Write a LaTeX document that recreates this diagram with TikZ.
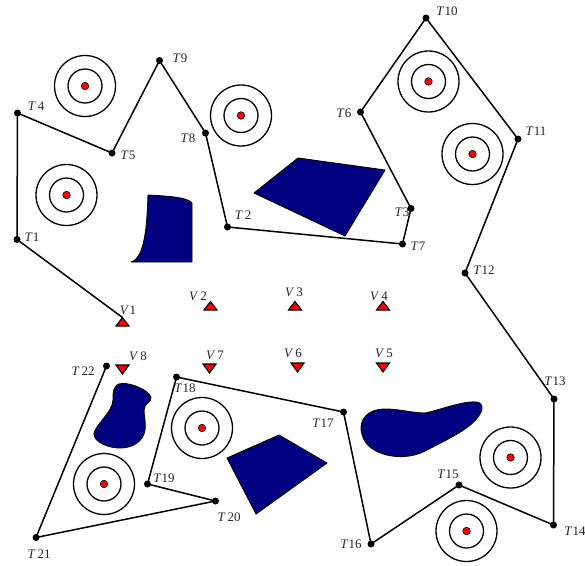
\documentclass[tikz,border=0pt]{standalone}
\usepackage{fontspec}
\setmainfont{Liberation Serif}
\definecolor{navyblob}{RGB}{0,0,128}
\newcommand{\lab}[2]{\textit{#1}\kern0.4pt #2}
\newcommand{\labw}[2]{\textit{#1}\kern2pt #2}
\tikzset{
  x=1pt,y=-1pt,
  tdot/.style={circle,fill=black,inner sep=0pt,minimum size=7pt},
  tlabel/.style={font=\fontsize{13}{13}\selectfont,text=black!85,inner sep=0pt},
  route/.style={draw=black,line width=1.5pt,line join=round},
  ring/.style={draw=black,line width=1.3pt,fill=none},
  reddot/.style={circle,draw=black,line width=0.6pt,fill=red,inner sep=0pt,minimum size=7.5pt},
  blob/.style={draw=black,line width=0.9pt,fill=navyblob,line join=round},
  tri/.style={draw=black,line width=1.1pt,fill=red,line join=miter},
}
\newcommand{\target}[3]{%
  \draw[ring] (#1,#2) circle[radius=30.5];
  \draw[ring] (#1,#2) circle[radius=17];
  \node[reddot] (#3) at (#1,#2) {};
}
\newcommand{\upT}[3]{\draw[tri] (#1-6.5,#2+4) -- (#1,#2-4.5) -- (#1+6.5,#2+4) -- cycle; \coordinate (#3) at (#1,#2-4.5);}
\newcommand{\dnT}[3]{\draw[tri] (#1-6.5,#2-4) -- (#1,#2+5) -- (#1+6.5,#2-4) -- cycle; \coordinate (#3) at (#1,#2);}
\begin{document}
\begin{tikzpicture}
\useasboundingbox (0,0) rectangle (585,565);
% targets
\target{85}{86}{c1}
\target{66.5}{195}{c2}
\target{241}{115.5}{c3}
\target{428.5}{81.5}{c4}
\target{472.5}{154}{c5}
\target{510.5}{457.5}{c6}
\target{466.5}{531}{c7}
\target{104}{484}{c8}
\target{202}{428}{c9}
% obstacles
\draw[blob] (148,195) .. controls (165,196) and (188,197) .. (192,203) -- (192,262) -- (131,262) .. controls (145,258) and (147,225) .. (148,195) -- cycle;
\draw[blob] (298,158) -- (385,170) -- (345,236) -- (254,193) -- cycle;
\draw[blob] (122,383.5) .. controls (132,383) and (148,390) .. (151,397) .. controls (152,402) and (144,403) .. (144,410) .. controls (144,416) and (146,422) .. (145,430) .. controls (143,442) and (132,448) .. (120,448) .. controls (108,448) and (94,442) .. (94,434) .. controls (94,426) and (113,412) .. (113,400) .. controls (113,392) and (113,384) .. (122,383.5) -- cycle;
\draw[blob] (279,435) -- (327,463) -- (256,514) -- (227,458) -- cycle;
\draw[blob] (361,427) .. controls (362,415) and (372,409) .. (385,409) .. controls (400,409) and (412,413) .. (425,413) .. controls (440,410) and (462,401) .. (476,402) .. controls (482,402) and (484,408) .. (480,414) .. controls (472,428) and (450,438) .. (425,451) .. controls (410,459) and (385,459) .. (370,447) .. controls (364,442) and (361,435) .. (361,427) -- cycle;
% vertices
\upT{122.5}{322}{V1}
\upT{210.5}{306}{V2}
\upT{295}{306}{V3}
\upT{383}{306}{V4}
\dnT{383}{367}{V5}
\dnT{297.5}{367}{V6}
\dnT{209.5}{368}{V7}
\dnT{122.5}{369}{V8}
% waypoints
\foreach \n/\x/\y in {T1/17/239.5,T2/227.5/227,T3/411/208.5,T4/17.5/113,T5/112/153,T6/360.5/112,T7/402.5/244,T8/205.5/133,T9/159.5/60.5,T10/426/18,T11/518/139,T12/465/273,T13/554/399,T14/553.5/525,T15/459/485,T16/371/544,T17/343.5/412,T18/176.5/377,T19/147.5/484,T20/215.5/501,T21/36/537.5,T22/106.5/366}{
  \node[tdot] (\n) at (\x,\y) {};
}
\draw[route] (V1) -- (T1.center) -- (T4.center) -- (T5.center) -- (T9.center) -- (T8.center) -- (T2.center) -- (T7.center) -- (T3.center) -- (T6.center) -- (T10.center) -- (T11.center) -- (T12.center) -- (T13.center) -- (T14.center) -- (T15.center) -- (T16.center) -- (T17.center) -- (T18.center) -- (T19.center) -- (T20.center) -- (T21.center) -- (T22.center);
% labels
\foreach \n/\t/\d/\x/\y in {l1/T/1/32/237,l3/T/3/402/212,l5/T/5/128/155,l7/T/7/418/246,l8/T/8/188/138,l9/T/9/180/58,l6/T/6/344/113,l10/T/10/447/11,l11/T/11/536/131,l12/T/12/484/270,l13/T/13/555/381,l14/T/14/575/531,l15/T/15/448/474,l16/T/16/351/544,l17/T/17/323/423,l18/T/18/185/388,l19/T/19/164/478,lv1/V/1/128/310}{
  \node[tlabel] (\n) at (\x,\y) {\lab{\t}{\d}};
}
\foreach \n/\t/\d/\x/\y in {l2/T/2/243/215,l4/T/4/36/106,l20/T/20/229/517,l21/T/21/39/554,l22/T/22/83/371,lv2/V/2/198/296,lv3/V/3/294/292,lv4/V/4/379/296,lv5/V/5/384/353,lv6/V/6/293/353,lv7/V/7/215/355,lv8/V/8/138/356}{
  \node[tlabel] (\n) at (\x,\y) {\labw{\t}{\d}};
}
\end{tikzpicture}
\end{document}
